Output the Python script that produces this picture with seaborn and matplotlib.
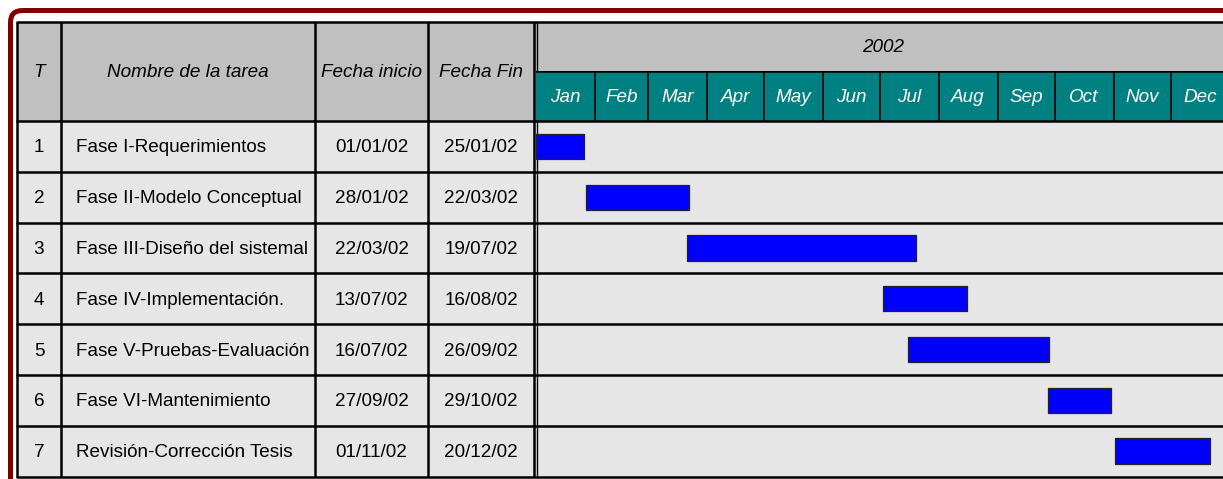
import matplotlib
matplotlib.use("Agg")
import matplotlib.pyplot as plt
import seaborn as sns
from matplotlib.patches import Rectangle, FancyBboxPatch

# ---- data ----
task_ids = ["1", "2", "3", "4", "5", "6", "7"]
task_names = ["Fase I-Requerimientos", "Fase II-Modelo Conceptual",
              "Fase III-Diseño del sistemal", "Fase IV-Implementación.",
              "Fase V-Pruebas-Evaluación", "Fase VI-Mantenimiento",
              "Revisión-Corrección Tesis"]
start_dates = ["01/01/02", "28/01/02", "22/03/02", "13/07/02", "16/07/02", "27/09/02", "01/11/02"]
end_dates = ["25/01/02", "22/03/02", "19/07/02", "16/08/02", "26/09/02", "29/10/02", "20/12/02"]
# bars as drawn, in day of year
bar_start = [0, 26.5, 79.5, 182.5, 196, 269.5, 304.5]
bar_end = [25, 80.5, 200, 227, 270, 302.5, 355]
months = ["Jan", "Feb", "Mar", "Apr", "May", "Jun", "Jul", "Aug", "Sep", "Oct", "Nov", "Dec"]
month_days = [31, 28, 31, 30, 31, 30, 31, 31, 30, 31, 30, 31]
year_label = "2002"
headers = ["T", "Nombre de la tarea", "Fecha inicio", "Fecha Fin"]

sns.set_theme(style="white")
plt.rcParams['font.family'] = ['Liberation Sans', 'DejaVu Sans']
plt.rcParams['text.color'] = 'black'

W, H = 1223, 479
col_x = [17, 61, 315, 428, 534]
top, mid, head_bot = 22, 71, 121
row_h = 50.8
n = len(task_ids)
bottom = head_bot + n * row_h
g_left = 536
px_day = 1.9
g_width = 365 * px_day
fs = 13.6

fig = plt.figure(figsize=(W / 100, H / 100), dpi=100)
fig.patch.set_facecolor("white")

# table frame in pixel coordinates
tab = fig.add_axes([0, 0, 1, 1])
tab.set_xlim(0, W)
tab.set_ylim(H, 0)
tab.set_axis_off()

tab.add_patch(FancyBboxPatch((10.5, 10.5), 1400, 800,
                             boxstyle="round,pad=0,rounding_size=12",
                             fill=False, ec="#800000", lw=3.6))
tab.add_patch(Rectangle((col_x[0], top), 1400, head_bot - top, fc="#C0C0C0", ec="none"))
tab.add_patch(Rectangle((col_x[0], head_bot), 1400, bottom - head_bot, fc="#E6E6E6", ec="none"))

lw = 1.8
for x in col_x:
    tab.plot([x, x], [top, bottom], color="black", lw=lw, solid_capstyle="butt")
tab.plot([g_left + 1, g_left + 1], [top, bottom], color="black", lw=1.0)
tab.plot([col_x[0], W], [top, top], color="black", lw=lw)
for i in range(n + 1):
    y = head_bot + i * row_h
    tab.plot([col_x[0], W], [y, y], color="black", lw=lw)

# header texts
for i, h in enumerate(headers):
    xc = (col_x[i] + col_x[i + 1]) / 2
    tab.text(xc, (top + head_bot) / 2 + 1, h, ha="center", va="center",
             fontsize=fs, style="italic", color="black")
tab.text(g_left + g_width / 2, (top + mid) / 2 + 1, year_label, ha="center", va="center",
         fontsize=fs, style="italic", color="black")

# body texts
for i in range(n):
    yc = head_bot + (i + 0.5) * row_h + 1.5
    tab.text((col_x[0] + col_x[1]) / 2, yc, task_ids[i], ha="center", va="center", fontsize=fs)
    tab.text(col_x[1] + 15, yc, task_names[i], ha="left", va="center", fontsize=fs)
    tab.text((col_x[2] + col_x[3]) / 2, yc, start_dates[i], ha="center", va="center", fontsize=fs)
    tab.text((col_x[3] + col_x[4]) / 2, yc, end_dates[i], ha="center", va="center", fontsize=fs)

# month header row
axh = fig.add_axes([g_left / W, (H - head_bot) / H, g_width / W, (head_bot - mid) / H])
axh.set_xlim(0, 365)
axh.set_ylim(0, 1)
axh.set_facecolor("#008080")
axh.set_xticks([])
axh.set_yticks([])
for s in axh.spines.values():
    s.set_visible(False)
axh.axhline(1, color="black", lw=lw)
axh.axhline(0, color="black", lw=lw)
edge = 0
for m, d in zip(months, month_days):
    if edge > 0:
        axh.axvline(edge, color="black", lw=1.2)
    axh.text(edge + d / 2, 0.47, m, ha="center", va="center", fontsize=fs,
             style="italic", color="white")
    edge += d

# gantt bars
ax = fig.add_axes([g_left / W, (H - bottom) / H, g_width / W, (bottom - head_bot) / H])
ax.set_facecolor("none")
ax.set_xlim(0, 365)
ax.set_ylim(n, 0)
ax.set_xticks([])
ax.set_yticks([])
for s in ax.spines.values():
    s.set_visible(False)
ypos = [i + 0.5 for i in range(n)]
widths = [e - s for s, e in zip(bar_start, bar_end)]
ax.barh(ypos, widths, left=bar_start, height=0.5, color="#0000FF",
        edgecolor="#222222", linewidth=0.9, joinstyle="round")

fig.savefig("out.png", dpi=100)
